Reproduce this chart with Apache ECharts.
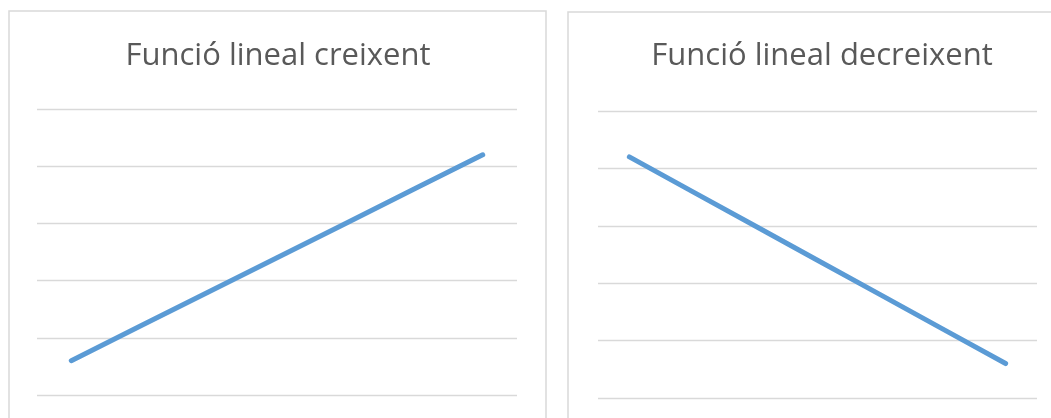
<!DOCTYPE html>
<html>
<head>
<meta charset="utf-8">
<script src="https://cdn.jsdelivr.net/npm/echarts@6/dist/echarts.min.js"></script>
<style>
  html, body { margin: 0; padding: 0; background: #fff; }
  #chart { width: 1051px; height: 418px; }
</style>
</head>
<body>
<div id="chart"></div>
<script>
  // dades
  var categories = ['1', '2', '3', '4', '5', '6', '7'];
  var creixent = [3, 6, 9, 12, 15, 18, 21];
  var decreixent = [21, 18, 15, 12, 9, 6, 3];
  var titles = ['Funció lineal creixent', 'Funció lineal decreixent'];

  var gridColor = '#d9d9d9';
  var lineColor = '#5b9bd5';

  function xAxis(idx) {
    return {
      type: 'category', gridIndex: idx, data: categories, boundaryGap: true,
      axisLine: { show: false }, axisTick: { show: false }, axisLabel: { show: false }
    };
  }
  function yAxis(idx) {
    return {
      type: 'value', gridIndex: idx, min: 0, max: 25, interval: 5,
      axisLine: { show: false }, axisTick: { show: false }, axisLabel: { show: false },
      splitLine: { show: true, lineStyle: { color: gridColor, width: 1.3 } }
    };
  }
  function serie(idx, data) {
    return {
      type: 'line', xAxisIndex: idx, yAxisIndex: idx, data: data,
      symbol: 'none', silent: true,
      lineStyle: { color: lineColor, width: 5, cap: 'round' }
    };
  }

  var titleStyle = { fontSize: 31, fontWeight: 'normal', color: '#595959', fontFamily: 'Open Sans' };

  var chart = echarts.init(document.getElementById('chart'));
  chart.setOption({
    animation: false,
    textStyle: { fontFamily: 'Open Sans' },
    title: [
      { text: titles[0], left: 273, top: 36, textAlign: 'center', textStyle: titleStyle },
      { text: titles[1], left: 817, top: 36, textAlign: 'center', textStyle: titleStyle }
    ],
    graphic: [
      { type: 'rect', shape: { x: 9, y: 11, width: 537, height: 430 },
        style: { fill: 'none', stroke: gridColor, lineWidth: 1.5 }, silent: true },
      { type: 'rect', shape: { x: 568, y: 12, width: 500, height: 430 },
        style: { fill: 'none', stroke: gridColor, lineWidth: 1.5 }, silent: true }
    ],
    grid: [
      { left: 37, top: 109, width: 480, height: 286 },
      { left: 598, top: 111, width: 439, height: 287 }
    ],
    xAxis: [xAxis(0), xAxis(1)],
    yAxis: [yAxis(0), yAxis(1)],
    series: [serie(0, creixent), serie(1, decreixent)]
  });
</script>
</body>
</html>
